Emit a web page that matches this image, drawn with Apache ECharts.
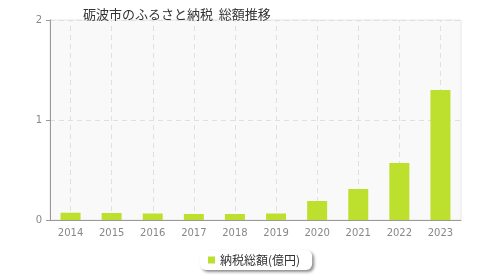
<!DOCTYPE html>
<html><head><meta charset="utf-8">
<script src="https://cdn.jsdelivr.net/npm/echarts@6/dist/echarts.min.js"></script>
<style>html,body{margin:0;padding:0;background:#fff}#c{width:480px;height:280px}</style>
</head><body><div id="c"></div>
<script>
const title = '砺波市のふるさと納税  総額推移';
const seriesName = '納税総額(億円)';
const categories = ['2014','2015','2016','2017','2018','2019','2020','2021','2022','2023'];
const values = [0.073, 0.07, 0.065, 0.06, 0.06, 0.065, 0.19, 0.31, 0.57, 1.30];
const yTicks = [0, 1, 2];

const chart = echarts.init(document.getElementById('c'), null, {renderer:'canvas'});
chart.setOption({
  animation:false,
  title:{text:title,left:78,top:3,textStyle:{fontSize:13,fontWeight:'normal',color:'#333',fontFamily:'Noto Sans CJK JP'}},
  grid:{left:50,right:19,top:20,bottom:60,show:true,backgroundColor:'#f9f9f9',borderColor:'#e6e6e6',borderWidth:1},
  legend:{bottom:10,left:200,data:[seriesName],icon:'rect',itemWidth:7,itemHeight:7,itemGap:6,
    textStyle:{fontSize:12,color:'#333',fontFamily:'Noto Sans CJK JP'},
    backgroundColor:'#fff',borderColor:'#ddd',borderWidth:0,borderRadius:6,padding:[4,12,4,8],
    shadowColor:'rgba(0,0,0,0.45)',shadowBlur:3,shadowOffsetX:2,shadowOffsetY:2},
  xAxis:{type:'category',data:categories,boundaryGap:true,
    axisLine:{lineStyle:{color:'#999',width:1}},
    axisTick:{alignWithLabel:true,length:4,lineStyle:{color:'#999'}},
    axisLabel:{color:'#888',fontSize:10,margin:8,fontFamily:'DejaVu Sans'},
    splitLine:{show:false}},
  yAxis:{type:'value',min:0,max:2,interval:1,
    axisLine:{show:true,lineStyle:{color:'#999'}},
    axisTick:{show:true,length:4,lineStyle:{color:'#999'}},
    axisLabel:{color:'#888',fontSize:10,margin:8,fontFamily:'DejaVu Sans',formatter:v=>yTicks.includes(v)?String(v):''},
    splitLine:{show:true,lineStyle:{color:'#e0e0e0',type:[5,4]}}},
  series:[
    {name:'grid',type:'line',data:[],z:1,silent:true,
      markLine:{silent:true,symbol:'none',z:1,label:{show:false},
        lineStyle:{color:'#e0e0e0',type:[5,4],width:1},
        data:categories.map(c=>({xAxis:c}))}},
    {name:seriesName,type:'bar',data:values,barWidth:20,z:3,itemStyle:{color:'#bde02e'}}
  ]
});
</script></body></html>
